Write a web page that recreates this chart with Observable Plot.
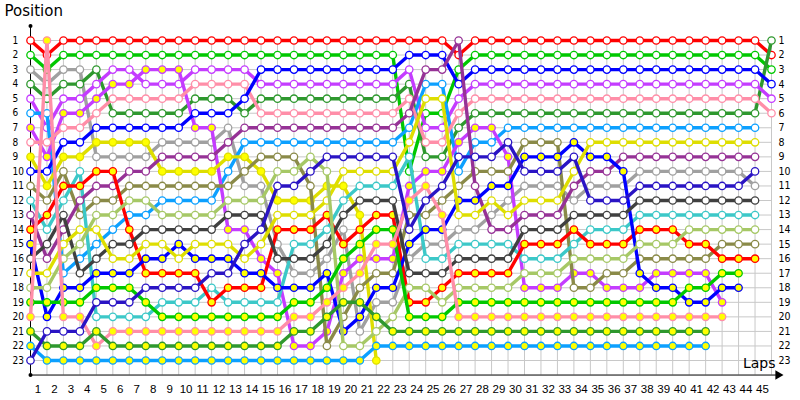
<!DOCTYPE html>
<html><head><meta charset="utf-8">
<script src="https://cdn.jsdelivr.net/npm/d3@7"></script>
<script src="https://cdn.jsdelivr.net/npm/@observablehq/plot@0.6"></script>
<style>body{margin:0;background:#fff;} svg{display:block;}</style>
</head><body><div id="chart"></div>
<script>
// Tick labels
const lapLabels = d3.range(1, 46);
const positionLabels = d3.range(1, 24);

// Drivers (order of the starting grid)
const drivers = ["Red","Green","Grey","Forest","Violet","Sky","Violet II","Pink","Yellow","Blue","Olive","Cyan","Plum","Red II","Blue II","Charcoal","Yellow II","Lime","Green II","Pink II","Forest II","Sky II","Indigo"];

// Position at each lap column (column 0 = start)
const posRed      = [1,2,1,1,1,1,1,1,1,1, 1,1,1,1,1,1,1,1,1,1, 1,1,1,1,1,1,2,1,1,1, 1,1,1,1,1,1,1,1,1,1, 1,1,1,1,1,2];
const posGreen    = [2,3,2,2,2,2,2,2,2,2, 2,2,2,2,2,2,2,2,2,2, 2,2,2,10,6,6,3,2,2,2, 2,2,2,2,2,2,2,2,2,2, 2,2,2,2,2,3];
const posGrey     = [3,4,3,3,9,9,9,9,8,8, 8,8,7,11,11,15,17,17,16,14, 21,19,19,16,15,15,14,14,13,12, 11,11,11,12,11,11,11,10,10,10, 10,10,10,10,11];
const posForest   = [4,5,4,4,3,6,6,6,6,6, 5,5,5,6,5,5,5,5,5,5, 5,5,5,4,9,9,7,6,6,6, 6,6,6,6,6,6,6,6,6,6, 6,6,6,6,6,1];
const posViolet   = [5,7,5,5,4,3,3,4,4,4, 3,3,3,3,4,4,4,4,4,4, 4,4,4,3,7,7,5,4,4,4, 4,4,4,4,4,4,4,4,4,4, 4,4,4,4,4,5];
const posSky      = [6,6,17,16,15,14,13,13,12,12, 12,12,10,8,8,8,8,8,8,8, 8,8,8,7,4,4,10,8,8,7, 7,7,7,7,7,7,7,7,7,7, 7,7,7,7,7];
const posViolet2  = [7,9,6,6,5,4,4,3,3,3, 7,7,14,14,16,17,22,22,21,17, 16,16,16,11,10,10,8,7,7,9, 18,18,18,17,17,18,18,18,17,17, 17,17,19];
const posPink     = [8,8,7,7,6,5,5,5,5,5, 4,4,4,4,6,6,6,6,6,6, 6,6,6,5,8,8,6,5,5,5, 5,5,5,5,5,5,5,5,5,5, 5,5,5,5,5,6];
const posYellow   = [9,11,9,9,8,8,8,8,10,10, 10,10,9,9,10,12,12,12,11,11, 13,23];
const posBlue     = [10,10,8,8,7,7,7,7,7,7, 6,6,6,5,3,3,3,3,3,3, 3,3,3,2,2,2,4,3,3,3, 3,3,3,3,3,3,3,3,3,3, 3,3,3,3,3,4];
const posOlive    = [11,12,10,13,12,12,11,11,11,11, 11,11,11,10,9,9,9,11,22,20, 18,17,17,13,13,12,11,10,10,10, 8,8,8,18,18,17,17,16,16,16, 16,16,15,15,15];
const posCyan     = [12,14,12,10,20,20,20,20,19,19, 19,18,19,19,19,19,15,15,14,12, 11,11,11,9,16,16,15,15,15,15, 16,16,16,15,14,14,14,13,13,13, 13,13,13,13,13];
const posPlum     = [13,16,14,12,11,11,10,10,9,9, 9,9,8,7,7,7,7,7,7,7, 7,7,7,6,3,3,1,11,14,14, 13,13,13,11,10,10,9,9,9,9, 9,9,9,9,9];
const posRed2     = [14,13,11,11,10,10,14,17,17,17, 17,19,18,18,18,14,14,14,13,15, 14,13,13,19,19,18,17,17,17,17, 15,15,15,14,15,15,15,14,14,14, 15,15,16,16,16];
const posBlue2    = [15,20,18,18,17,17,17,16,16,15, 16,16,16,17,17,18,18,18,17,21, 20,18,18,15,14,14,12,12,11,11, 9,9,9,8,9,9,10,17,18,18, 19,19,18,18];
const posCharcoal = [16,15,13,17,16,15,15,14,14,14, 14,14,13,13,13,16,16,16,15,13, 12,12,12,17,17,17,16,16,16,16, 14,14,14,13,13,13,13,12,12,12, 12,12,12,12,12];
const posYellow2  = [17,17,15,14,14,16,16,15,15,16, 15,15,15,16,15,13,13,13,12,10, 10,10,10,8,5,5,13,13,12,13, 12,12,12,10,8,8,8,8,8,8, 8,8,8,8,8];
const posLime     = [18,18,16,15,13,13,12,12,13,13, 13,13,12,12,12,10,10,9,10,22, 22,21,20,18,18,19,18,18,18,18, 17,17,17,16,16,16,16,15,15,15, 14,14,14,14,14];
const posGreen2   = [19,19,19,19,18,18,18,19,20,20, 20,20,20,20,20,20,19,19,18,16, 15,14,14,20,20,20,19,19,19,19, 19,19,19,19,19,19,19,19,19,19, 18,18,17,17];
const posPink2    = [20,1,20,20,22,21,21,21,21,21, 21,21,21,21,21,21,20,20,19,18, 17,15,15,12,11,13,20,20,20,20, 20,20,20,20,20,20,20,20,20,20, 20,20,20];
const posForest2  = [21,22,22,22,21,22,22,22,22,22, 22,22,22,22,22,22,21,21,20,19, 19,20,21,21,21,21,21,21,21,21, 21,21,21,21,21,21,21,21,21,21, 21,21];
const posSky2     = [22,23,23,23,23,23,23,23,23,23, 23,23,23,23,23,23,23,23,23,23, 23,22,22,22,22,22,22,22,22,22, 22,22,22,22,22,22,22,22,22,22, 22,22];
const posIndigo   = [23,21,21,21,19,19,19,18,18,18, 18,17,17,15,14,11,11,10,9,9, 9,9,9,14,12,11,9,9,9,8, 10,10,10,9,12,12,12,11,11,11, 11,11,11,11,10];

const series = [posRed,posGreen,posGrey,posForest,posViolet,posSky,posViolet2,posPink,posYellow,posBlue,posOlive,posCyan,posPlum,posRed2,posBlue2,posCharcoal,posYellow2,posLime,posGreen2,posPink2,posForest2,posSky2,posIndigo];

// Styles
const lineColors = ["#ff0000","#00c800","#a0a0a0","#2e982e","#c43cff","#0ca0ff","#c43cff","#ff8ea8","#dede00","#0000ff","#8a8a48","#3cc8c8","#963296","#ff0000","#0000ff","#404040","#dede00","#a6c866","#00c800","#ff8ea8","#2e982e","#0ca0ff","#2a14c4"];
const markerFills = ["#fff","#fff","#fff","#fff","#fff","#fff","#ffff00","#fff","#ffff00","#fff","#fff","#fff","#fff","#ffff00","#ffff00","#fff","#fff","#fff","#ffff00","#ffff00","#ffff00","#ffff00","#fff"];

const rows = series.flatMap((s, i) => s.map((p, lap) => ({driver: drivers[i], i, lap, pos: p})));
const columns = d3.range(0, 46);
const titleFont = "DejaVu Sans, sans-serif";
const tickFont = "Liberation Sans, Arial, sans-serif";
const sideFont = "Liberation Sans Narrow, DejaVu Sans Condensed, Liberation Sans, sans-serif";

const seriesMarks = drivers.flatMap((name, i) => {
  const data = rows.filter(d => d.i === i);
  return [
    Plot.line(data, {x: "lap", y: "pos", stroke: lineColors[i], strokeWidth: 3.4, strokeLinejoin: "round"}),
    Plot.dot(data, {x: "lap", y: "pos", r: 3.7, fill: markerFills[i], stroke: lineColors[i], strokeWidth: 1.3})
  ];
});

const chart = Plot.plot({
  width: 800, height: 400,
  margin: 0,
  style: {fontFamily: tickFont, background: "#fff"},
  x: {domain: [0, 45], range: [30, 771], axis: null},
  y: {domain: [1, 23], range: [40, 360], axis: null},
  marks: [
    Plot.ruleX(columns, {y1: 1, y2: 24, stroke: "#c8c8c8", strokeWidth: 1}),
    Plot.ruleY(positionLabels, {x1: 0, x2: 45, stroke: "#c8c8c8", strokeWidth: 1}),
    Plot.ruleX([0], {y1: 0, y2: 24, stroke: "#000", strokeWidth: 1}),
    Plot.ruleY([24], {x1: 0, x2: 45.3, stroke: "#000", strokeWidth: 1}),
    Plot.dot([0, 24], {x: 0, y: d => d, r: 2, fill: "#000"}),
    Plot.dot([45.4], {x: d => d, y: 24, symbol: "triangle", rotate: 90, r: 3.5, fill: "#000"}),
    ...seriesMarks,
    Plot.text(positionLabels, {x: 0, y: d => d, text: d => String(d), textAnchor: "start", dx: -18, fontSize: 10, fontFamily: sideFont, fill: "#000"}),
    Plot.text(positionLabels, {x: 45, y: d => d, text: d => String(d), textAnchor: "start", dx: 7, fontSize: 10.5, fontFamily: sideFont, fill: "#000"}),
    Plot.text(lapLabels, {x: d => d - 0.55, y: 24, text: d => String(d), dy: 14, fontSize: 11.5, fontFamily: tickFont, fill: "#000"}),
    Plot.text(["Position"], {frameAnchor: "top-left", dx: 4, dy: 5, lineAnchor: "top", textAnchor: "start", fontSize: 15, fontFamily: titleFont, fill: "#000"}),
    Plot.text(["Laps"], {x: 45, y: 24, dx: 4, dy: -12, textAnchor: "end", fontSize: 14, fontFamily: titleFont, fill: "#000"})
  ]
});
document.getElementById("chart").appendChild(chart);
</script>
</body></html>
